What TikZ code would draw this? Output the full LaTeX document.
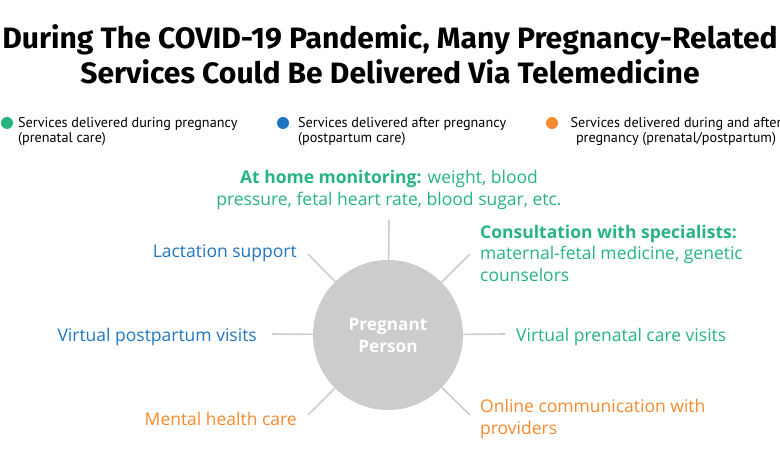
\documentclass[tikz,border=0pt]{standalone}
\usepackage{fontspec}
\setmainfont{Open Sans}
\newfontfamily\titlefont{Fira Sans}
\newfontfamily\keyfont{PT Sans}
\usepackage{tikz}

\definecolor{prenatal}{RGB}{38,180,128}
\definecolor{postnatal}{RGB}{30,118,192}
\definecolor{bothcare}{RGB}{246,138,46}
\definecolor{spoke}{RGB}{204,204,204}

\begin{document}
\begin{tikzpicture}[
  x=1pt, y=-1pt,
  lbl/.style={inner sep=0pt, font=\fontsize{17.5}{21.5}\selectfont},
  key/.style={inner sep=0pt, font=\keyfont\fontsize{14.2}{15}\selectfont},
  keydot/.style={circle, inner sep=0pt, minimum size=12pt},
  arm/.style={draw=spoke, line width=1.6pt},
]
\useasboundingbox (0,0) rectangle (780,470);

% title
\node [inner sep=0pt, align=center, font=\titlefont\bfseries\fontsize{29.5}{35}\selectfont] (title) at (390,54)
  {\scalebox{1.02}[1]{During The COVID-19 Pandemic, Many Pregnancy-Related}\\
   \scalebox{1.02}[1]{Services Could Be Delivered Via Telemedicine}};

% legend
\node [keydot, fill=prenatal] (dot-pre) at (7,123) {};
\node [keydot, fill=postnatal] (dot-post) at (283,123) {};
\node [keydot, fill=bothcare] (dot-both) at (552,123) {};
\node [key, anchor=west, align=left] (key-pre) at (18,132) {Services delivered during pregnancy\\(prenatal care)};
\node [key, anchor=west, align=left] (key-post) at (298,132) {Services delivered after pregnancy\\(postpartum care)};
\node [key, align=center] (key-both) at (676,132) {Services delivered during and after\\pregnancy (prenatal/postpartum)};

% hub
\node [circle, fill=spoke, minimum size=150pt, inner sep=0pt, align=center, text=white,
  font=\bfseries\fontsize{17.2}{22}\selectfont] (person) at (388,335) {Pregnant\\Person};

% services
\node [lbl, align=center, text=prenatal] (home) at (389,190)
  {\textbf{At home monitoring:} weight, blood\\pressure, fetal heart rate, blood sugar, etc.};
\node [lbl, anchor=west, align=left, text=prenatal] (consult) at (480,253)
  {\textbf{Consultation with specialists:}\\maternal-fetal medicine, genetic\\counselors};
\node [lbl, anchor=west, text=prenatal] (visits-pre) at (516,337) {Virtual prenatal care visits};
\node [lbl, anchor=west, align=left, text=bothcare] (online) at (480,419) {Online communication with\\providers};
\node [lbl, anchor=east, text=postnatal] (lactation) at (297,253) {Lactation support};
\node [lbl, anchor=east, text=postnatal] (visits-post) at (257,337) {Virtual postpartum visits};
\node [lbl, anchor=east, text=bothcare] (mental) at (297,419) {Mental health care};

\coordinate (home-end) at (389,220);
\coordinate (consult-end) at (470,254);
\coordinate (pre-end) at (505,334);
\coordinate (online-end) at (470,415);
\coordinate (lact-end) at (308,254);
\coordinate (post-end) at (272,334);
\coordinate (mental-end) at (308,415);

\draw [arm] (person) -- (home-end);
\draw [arm] (person) -- (consult-end);
\draw [arm] (person) -- (pre-end);
\draw [arm] (person) -- (online-end);
\draw [arm] (person) -- (lact-end);
\draw [arm] (person) -- (post-end);
\draw [arm] (person) -- (mental-end);

\end{tikzpicture}
\end{document}
